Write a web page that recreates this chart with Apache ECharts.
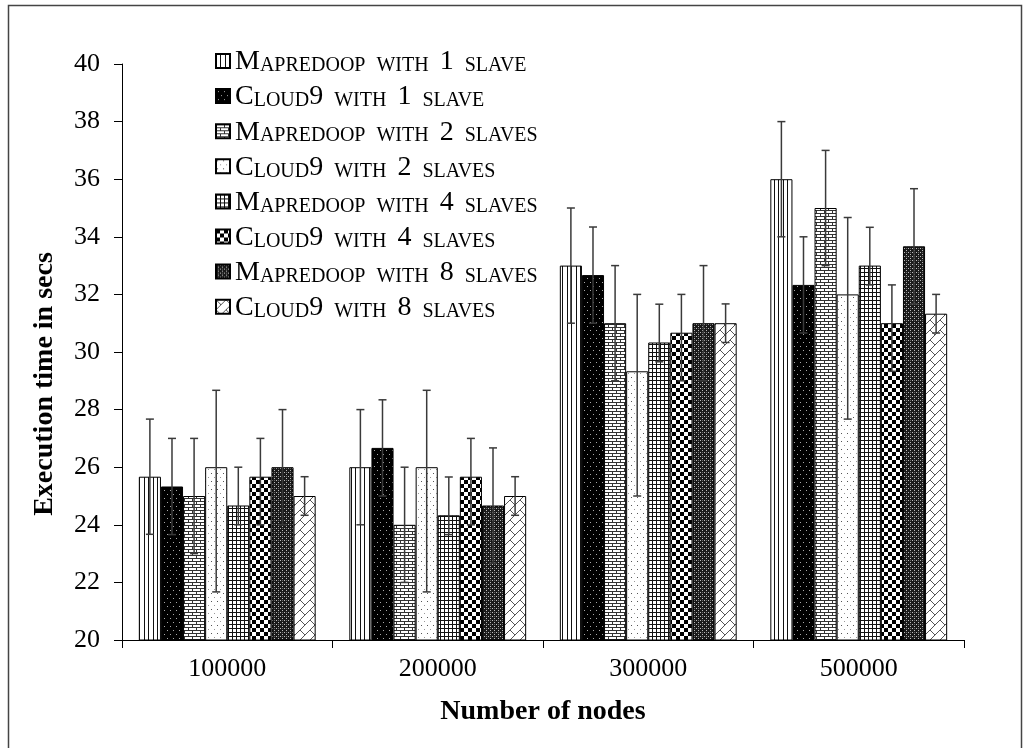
<!DOCTYPE html>
<html>
<head>
<meta charset="utf-8">
<script src="https://cdn.jsdelivr.net/npm/echarts@6/dist/echarts.min.js"></script>
<style>
  html, body { margin: 0; padding: 0; background: #fff; }
  #chart { width: 1031px; height: 748px; }
</style>
</head>
<body>
<div id="chart"></div>
<script>
// categories (number of nodes)
const nodes = ['100000', '200000', '300000', '500000'];

const seriesNames = [
    'Mapredoop with 1 slave',
    'Cloud9 with 1 slave',
    'Mapredoop with 2 slaves',
    'Cloud9 with 2 slaves',
    'Mapredoop with 4 slaves',
    'Cloud9 with 4 slaves',
    'Mapredoop with 8 slaves',
    'Cloud9 with 8 slaves'
];

// execution time in secs
const mapredoop1 = [25.67, 26, 33, 36];
const cloud9_1 = [25.33, 26.67, 32.67, 32.33];
const mapredoop2 = [25, 24, 31, 35];
const cloud9_2 = [26, 26, 29.33, 32];
const mapredoop4 = [24.67, 24.33, 30.33, 33];
const cloud9_4 = [25.67, 25.67, 30.67, 31];
const mapredoop8 = [26, 24.67, 31, 33.67];
const cloud9_8 = [25, 25, 31, 31.33];

// error bar sizes (plus / minus), one per series
const errPlus = [2, 1.67, 2, 2.67, 1.33, 1.33, 2, 0.67];
const errMinus = [2, 1.67, 2, 4.33, 0.67, 1.67, 2, 0.67];

const yTicks = { min: 20, max: 40, step: 2 };

const values = [mapredoop1, cloud9_1, mapredoop2, cloud9_2, mapredoop4, cloud9_4, mapredoop8, cloud9_8];

const CAT_GAP = 0.16;
const SERIF = '"Liberation Serif", "Times New Roman", serif';

// fill patterns, drawn once on small canvases
function makePattern(w, h, draw) {
    const c = document.createElement('canvas');
    c.width = w;
    c.height = h;
    const ctx = c.getContext('2d');
    ctx.fillStyle = '#fff';
    ctx.fillRect(0, 0, w, h);
    draw(ctx);
    return { image: c, repeat: 'repeat' };
}

const patterns = [
    // vertical lines
    makePattern(9, 1, ctx => {
        ctx.fillStyle = '#111';
        ctx.fillRect(0, 0, 1, 1);
        ctx.fillRect(4, 0, 1, 1);
    }),
    // black with dim dots
    makePattern(6, 8, ctx => {
        ctx.fillStyle = '#000';
        ctx.fillRect(0, 0, 6, 8);
        ctx.fillStyle = '#aaa';
        ctx.fillRect(2, 2, 1, 1);
        ctx.fillRect(5, 6, 1, 1);
    }),
    // bricks
    makePattern(8, 6, ctx => {
        ctx.fillStyle = '#333';
        ctx.fillRect(0, 0, 8, 1);
        ctx.fillRect(0, 3, 8, 1);
        ctx.fillRect(0, 0, 1, 3);
        ctx.fillRect(4, 3, 1, 3);
    }),
    // sparse dots
    makePattern(6, 8, ctx => {
        ctx.fillStyle = '#555';
        ctx.fillRect(1, 1, 1, 1);
        ctx.fillStyle = '#999';
        ctx.fillRect(4, 5, 1, 1);
    }),
    // small grid
    makePattern(4, 4, ctx => {
        ctx.fillStyle = '#111';
        ctx.fillRect(0, 0, 4, 1);
        ctx.fillRect(0, 0, 1, 4);
    }),
    // checkerboard
    makePattern(8, 8, ctx => {
        ctx.fillStyle = '#000';
        ctx.fillRect(0, 0, 4, 4);
        ctx.fillRect(4, 4, 4, 4);
    }),
    // dense dark weave
    makePattern(4, 4, ctx => {
        ctx.fillStyle = '#1a1a1a';
        ctx.fillRect(0, 0, 4, 4);
        ctx.fillStyle = '#bbb';
        ctx.fillRect(0, 0, 1, 1);
        ctx.fillRect(2, 2, 1, 1);
        ctx.fillStyle = '#666';
        ctx.fillRect(2, 0, 1, 1);
    }),
    // zig-zag / herringbone
    makePattern(10, 10, ctx => {
        ctx.strokeStyle = '#555';
        ctx.lineWidth = 1;
        ctx.beginPath();
        ctx.moveTo(0, 10);
        ctx.lineTo(10, 0);
        ctx.moveTo(0, 0);
        ctx.lineTo(5, 5);
        ctx.stroke();
    })
];

// "Mapredoop with 1 slave" -> small caps with rich text
function smallCaps(s) {
    const cls = ch => ch === ' ' ? 'sp' : (/[a-z]/.test(ch) ? 'sm' : 'bg');
    let out = '';
    let cur = null;
    let buf = '';
    for (const ch of s) {
        const c = cls(ch);
        if (c !== cur && buf) {
            out += '{' + cur + '|' + buf + '}';
            buf = '';
        }
        cur = c;
        buf += c === 'sm' ? ch.toUpperCase() : ch;
    }
    if (buf) out += '{' + cur + '|' + buf + '}';
    return out;
}

function errRenderer(si) {
    return function (params, api) {
        const ci = api.value(0);
        const band = api.size([1, 0])[0];
        const groupW = band * (1 - CAT_GAP);
        const bw = groupW / values.length;
        const x = api.coord([ci, api.value(1)])[0] - groupW / 2 + bw * (si + 0.5);
        const yLo = api.coord([ci, api.value(2)])[1];
        const yHi = api.coord([ci, api.value(3)])[1];
        const cap = 4;
        const st = { stroke: '#3a3a3a', lineWidth: 1.5 };
        return {
            type: 'group',
            children: [
                { type: 'line', shape: { x1: x, y1: yLo, x2: x, y2: yHi }, style: st },
                { type: 'line', shape: { x1: x - cap, y1: yHi, x2: x + cap, y2: yHi }, style: st },
                { type: 'line', shape: { x1: x - cap, y1: yLo, x2: x + cap, y2: yLo }, style: st }
            ]
        };
    };
}

const chart = echarts.init(document.getElementById('chart'), null, { renderer: 'canvas' });

const barSeries = values.map((arr, i) => ({
    name: seriesNames[i],
    type: 'bar',
    barGap: '0%',
    barCategoryGap: (CAT_GAP * 100) + '%',
    itemStyle: {
        color: patterns[i],
        borderColor: '#000',
        borderWidth: 1
    },
    emphasis: { disabled: true },
    data: arr
}));

const errSeries = values.map((arr, i) => ({
    name: seriesNames[i] + ' err',
    type: 'custom',
    renderItem: errRenderer(i),
    z: 5,
    silent: true,
    encode: { x: 0, y: [1, 2, 3] },
    data: arr.map((v, ci) => [ci, v, v - errMinus[i], v + errPlus[i]])
}));

const options = {
    backgroundColor: '#fff',
    animation: false,
    graphic: [
        {
            type: 'rect',
            shape: { x: 8.5, y: 5.5, width: 1013, height: 760 },
            style: { fill: 'none', stroke: '#444', lineWidth: 1.5 },
            silent: true
        }
    ],
    legend: {
        data: seriesNames,
        orient: 'vertical',
        left: 210,
        top: 43,
        itemWidth: 14,
        itemHeight: 14,
        itemGap: 7.1,
        icon: 'rect',
        selectedMode: false,
        formatter: smallCaps,
        textStyle: {
            color: '#000',
            rich: {
                bg: { fontFamily: SERIF, fontSize: 28, color: '#000', verticalAlign: 'bottom', lineHeight: 30 },
                sm: { fontFamily: SERIF, fontSize: 20, color: '#000', verticalAlign: 'bottom', lineHeight: 30 },
                sp: { fontFamily: SERIF, fontSize: 20, width: 11, color: '#000', verticalAlign: 'bottom', lineHeight: 30 }
            }
        }
    },
    grid: {
        left: 122,
        right: 67,
        top: 64,
        bottom: 108
    },
    xAxis: {
        type: 'category',
        data: nodes,
        name: 'Number of nodes',
        nameLocation: 'middle',
        nameGap: 58,
        nameTextStyle: { fontFamily: SERIF, fontSize: 28, fontWeight: 'bold', color: '#000' },
        axisLine: { lineStyle: { color: '#000', width: 1 } },
        axisTick: { show: true, length: 8, lineStyle: { color: '#000' } },
        axisLabel: { fontFamily: SERIF, fontSize: 26, color: '#000', margin: 16 },
        splitLine: { show: false }
    },
    yAxis: {
        type: 'value',
        min: yTicks.min,
        max: yTicks.max,
        interval: yTicks.step,
        name: 'Execution time in secs',
        nameLocation: 'middle',
        nameGap: 63,
        nameRotate: 90,
        nameTextStyle: {
            fontFamily: SERIF, fontSize: 28, fontWeight: 'bold', color: '#000',
            padding: [0, 64, 0, 0]
        },
        axisLine: { show: true, lineStyle: { color: '#000', width: 1 } },
        axisTick: { show: true, length: 8, lineStyle: { color: '#000' } },
        axisLabel: { fontFamily: SERIF, fontSize: 26, color: '#000', margin: 22 },
        splitLine: { show: false }
    },
    series: barSeries.concat(errSeries)
};

chart.setOption(options);
</script>
</body>
</html>
